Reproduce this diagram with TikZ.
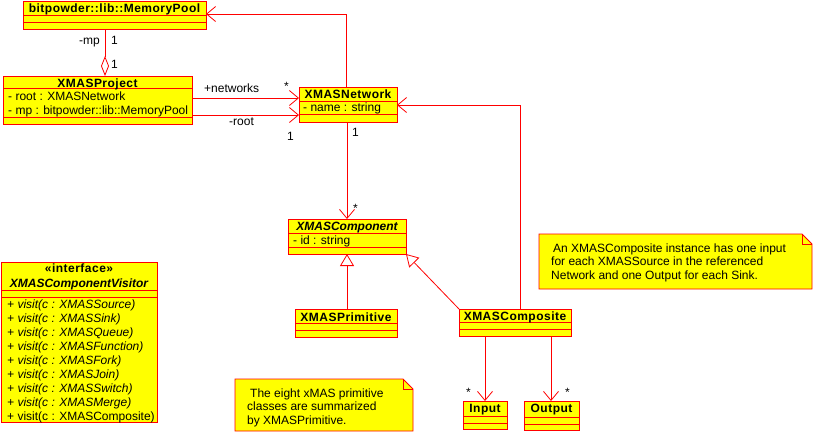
\documentclass[tikz,border=0pt]{standalone}
\usepackage{fontspec}
\setmainfont{Liberation Sans}
\newfontfamily\clsfont[LetterSpace=4]{Liberation Sans}
\usetikzlibrary{arrows.meta}
\definecolor{uyel}{RGB}{255,255,0}
\definecolor{ured}{RGB}{255,0,0}
\begin{document}
\begin{tikzpicture}[x=1pt,y=-1pt,
  font=\fontsize{12}{14}\selectfont,
  cls/.style={draw=ured, fill=uyel, line width=0.9pt, inner sep=0pt, outer sep=0pt, anchor=north west},
  sep/.style={draw=ured, line width=0.9pt},
  ttl/.style={font=\fontsize{12}{14}\selectfont\clsfont\bfseries, inner sep=0pt, anchor=base},
  ttli/.style={font=\fontsize{12}{14}\selectfont\bfseries\itshape, inner sep=0pt, anchor=base},
  attr/.style={inner sep=0pt, anchor=base west},
  attri/.style={inner sep=0pt, anchor=base west, font=\fontsize{12}{14}\selectfont\itshape},
  lbl/.style={inner sep=0pt, anchor=base west},
  assoc/.style={draw=ured, line width=0.8pt, -{Straight Barb[length=9pt,width=15pt,line width=0.8pt]}},
  gen/.style={draw=ured, line width=0.8pt, -{Triangle[open,length=12pt,width=14pt,fill=white,line width=0.8pt]}},
  agg/.style={draw=ured, line width=0.8pt, {Diamond[open,length=20pt,width=8pt,fill=white,line width=0.8pt]}-},
  notebox/.style={draw=ured, fill=uyel, line width=0.9pt},
  notefold/.style={draw=ured, line width=0.4pt},
  noteph/.style={inner sep=0pt, outer sep=0pt, anchor=north west},
]
\useasboundingbox (0,0) rectangle (814,432);

% ---------- class boxes ----------
\node[cls, minimum width=183pt, minimum height=28pt] (mp) at (23,1) {};
\draw[sep] (mp.west |- 0,15) -- (mp.east |- 0,15);
\draw[sep] (mp.west |- 0,22) -- (mp.east |- 0,22);
\node[ttl] (mpt) at (114.5,12) {bitpowder::lib::MemoryPool};

\node[cls, minimum width=189pt, minimum height=48pt] (proj) at (3,76) {};
\draw[sep] (proj.west |- 0,88) -- (proj.east |- 0,88);
\draw[sep] (proj.west |- 0,117) -- (proj.east |- 0,117);
\node[ttl] (projt) at (97.5,87) {XMASProject};
\node[attr] (proja1) at (8,100) {- root : XMASNetwork};
\node[attr] (proja2) at (8,114) {- mp : bitpowder::lib::MemoryPool};

\node[cls, minimum width=98pt, minimum height=35pt] (net) at (299,87) {};
\draw[sep] (net.west |- 0,101) -- (net.east |- 0,101);
\draw[sep] (net.west |- 0,114) -- (net.east |- 0,114);
\node[ttl] (nett) at (348,98) {XMASNetwork};
\node[attr] (neta1) at (303,111) {- name : string};

\node[cls, minimum width=118pt, minimum height=35pt] (comp) at (288,219) {};
\draw[sep] (comp.west |- 0,233) -- (comp.east |- 0,233);
\draw[sep] (comp.west |- 0,247) -- (comp.east |- 0,247);
\node[ttli] (compt) at (347,230) {XMASComponent};
\node[attr] (compa1) at (293,244) {- id : string};

\node[cls, minimum width=102pt, minimum height=28pt] (prim) at (295,309) {};
\draw[sep] (prim.west |- 0,323) -- (prim.east |- 0,323);
\draw[sep] (prim.west |- 0,330) -- (prim.east |- 0,330);
\node[ttl] (primt) at (346,321) {XMASPrimitive};

\node[cls, minimum width=112pt, minimum height=27pt] (cmp) at (459,309) {};
\draw[sep] (cmp.west |- 0,322) -- (cmp.east |- 0,322);
\draw[sep] (cmp.west |- 0,329) -- (cmp.east |- 0,329);
\node[ttl] (cmpt) at (515,320) {XMASComposite};

\node[cls, minimum width=44pt, minimum height=28pt] (inp) at (463,401) {};
\draw[sep] (inp.west |- 0,416) -- (inp.east |- 0,416);
\draw[sep] (inp.west |- 0,423) -- (inp.east |- 0,423);
\node[ttl] (inpt) at (485,412) {Input};

\node[cls, minimum width=55pt, minimum height=29pt] (outp) at (524,401) {};
\draw[sep] (outp.west |- 0,417) -- (outp.east |- 0,417);
\draw[sep] (outp.west |- 0,424) -- (outp.east |- 0,424);
\node[ttl] (outpt) at (551.5,412) {Output};

\node[cls, minimum width=156pt, minimum height=160pt] (vis) at (1,262) {};
\draw[sep] (vis.west |- 0,290) -- (vis.east |- 0,290);
\draw[sep] (vis.west |- 0,297) -- (vis.east |- 0,297);
\node[ttl] (vist1) at (79,272) {«interface»};
\node[ttli] (vist2) at (79,287) {XMASComponentVisitor};
\node[attri] (vm1) at (7,308) {+ visit(c : XMASSource)};
\node[attri] (vm2) at (7,322) {+ visit(c : XMASSink)};
\node[attri] (vm3) at (7,336) {+ visit(c : XMASQueue)};
\node[attri] (vm4) at (7,350) {+ visit(c : XMASFunction)};
\node[attri] (vm5) at (7,364) {+ visit(c : XMASFork)};
\node[attri] (vm6) at (7,378) {+ visit(c : XMASJoin)};
\node[attri] (vm7) at (7,392) {+ visit(c : XMASSwitch)};
\node[attri] (vm8) at (7,406) {+ visit(c : XMASMerge)};
\node[attr] (vm9) at (7,420) {+ visit(c : XMASComposite)};

% ---------- notes ----------
\node[noteph, minimum width=178pt, minimum height=52pt] (n1) at (235,379) {};
\draw[notebox] (n1.north west) -- ([xshift=-10pt]n1.north east) -- ([yshift=-10pt]n1.north east) -- (n1.south east) -- (n1.south west) -- cycle;
\draw[notefold] ([xshift=-10pt]n1.north east) -- ([xshift=-10pt,yshift=-10pt]n1.north east) -- ([yshift=-10pt]n1.north east);
\node[attr] (n1a) at (250,397) {The eight xMAS primitive};
\node[attr] (n1b) at (247,410.5) {classes are summarized};
\node[attr] (n1c) at (247,424) {by XMASPrimitive.};

\node[noteph, minimum width=273pt, minimum height=55pt] (n2) at (539,234) {};
\draw[notebox] (n2.north west) -- ([xshift=-10pt]n2.north east) -- ([yshift=-10pt]n2.north east) -- (n2.south east) -- (n2.south west) -- cycle;
\draw[notefold] ([xshift=-10pt]n2.north east) -- ([xshift=-10pt,yshift=-10pt]n2.north east) -- ([yshift=-10pt]n2.north east);
\node[attr] (n2a) at (553,252) {An XMASComposite instance has one input};
\node[attr] (n2b) at (551,265.5) {for each XMASSource in the referenced};
\node[attr] (n2c) at (551,279) {Network and one Output for each Sink.};

% ---------- connectors ----------
\draw[agg] (proj.north -| 105,0) -- (mp.south -| 105,0);
\draw[assoc] (proj.east |- 0,98) -- (net.west |- 0,98);
\draw[assoc] (proj.east |- 0,115) -- (net.west |- 0,115);
\draw[assoc] (net.north -| 346,0) |- (mp.east |- 0,14);
\draw[assoc] (net.south -| 347,0) -- (comp.north -| 347,0);
\draw[assoc] (cmp.north -| 520,0) |- (net.east |- 0,105);
\draw[gen] (prim.north -| 347,0) -- (comp.south -| 347,0);
\draw[gen] (cmp.north west) -- (comp.south east);
\draw[assoc] (cmp.south -| 485,0) -- (inp.north -| 485,0);
\draw[assoc] (cmp.south -| 551,0) -- (outp.north -| 551,0);

% ---------- labels ----------
\node[inner sep=0pt, anchor=base east] (lmp) at (100,44) {-mp};
\node[lbl] (lmp1) at (111,44) {1};
\node[lbl] (lmp2) at (111,68) {1};
\node[lbl] (lnw) at (204,92) {+networks};
\node[lbl] (lnws) at (284,90) {*};
\node[lbl] (lrt) at (229,125) {-root};
\node[lbl] (lrt1) at (287,140) {1};
\node[lbl] (lc1) at (352,136) {1};
\node[lbl] (lcs) at (353,212) {*};
\node[lbl] (lis) at (466,396) {*};
\node[lbl] (los) at (565,396) {*};
\end{tikzpicture}
\end{document}
